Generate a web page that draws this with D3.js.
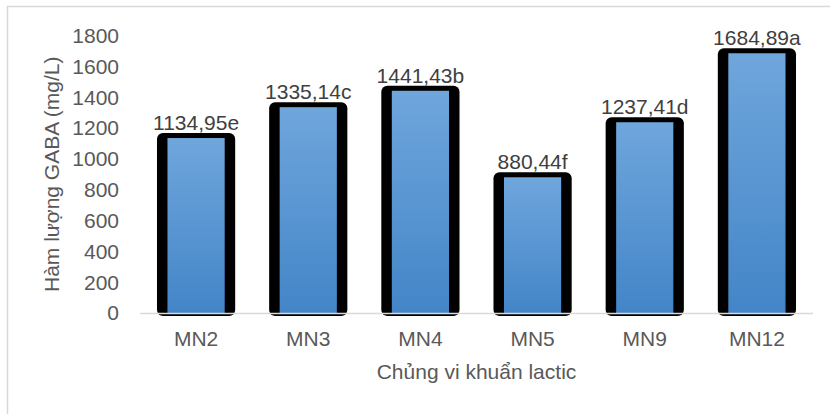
<!DOCTYPE html>
<html>
<head>
<meta charset="utf-8">
<script src="https://cdn.jsdelivr.net/npm/d3@7"></script>
<style>
  body { margin: 0; background: #fff; }
  text { font-family: "Liberation Sans", Arial, sans-serif; }
</style>
</head>
<body>
<div id="chart"></div>
<script>
var svgWidth = 830;
var svgHeight = 414;

// Data
var strains = ["MN2", "MN3", "MN4", "MN5", "MN9", "MN12"];
var gabaValues = [1134.95, 1335.14, 1441.43, 880.44, 1237.41, 1684.89];
var letters = ["e", "c", "b", "f", "d", "a"];
var yTicks = [0, 200, 400, 600, 800, 1000, 1200, 1400, 1600, 1800];

var plot = { left: 140, right: 813, top: 35.5, bottom: 313 };
var fontSize = 21;

var svg = d3.select("#chart")
  .append("svg")
  .attr("width", svgWidth)
  .attr("height", svgHeight);

// chart border
svg.append("rect")
  .attr("x", 7.5)
  .attr("y", 6.5)
  .attr("width", 840)
  .attr("height", 430)
  .attr("fill", "#fff")
  .attr("stroke", "#d9d9d9")
  .attr("stroke-width", 1.5);

var defs = svg.append("defs");
var grad = defs.append("linearGradient")
  .attr("id", "barGrad")
  .attr("x1", 0).attr("y1", 0).attr("x2", 0).attr("y2", 1);
grad.append("stop").attr("offset", "0%").attr("stop-color", "#6fa6dc");
grad.append("stop").attr("offset", "100%").attr("stop-color", "#4385c8");

var xScale = d3.scaleBand()
  .domain(strains)
  .range([plot.left, plot.right])
  .paddingInner(0.49)
  .paddingOuter(0.245);

var yScale = d3.scaleLinear()
  .domain([0, 1800])
  .range([plot.bottom, plot.top]);

// y tick labels
svg.append("g")
  .selectAll("text")
  .data(yTicks)
  .enter()
  .append("text")
  .attr("x", 119)
  .attr("y", d => yScale(d))
  .attr("dy", "0.35em")
  .attr("text-anchor", "end")
  .attr("font-size", fontSize)
  .attr("fill", "#595959")
  .text(d => d);

// black outline behind each bar
var bars = svg.append("g");
bars.selectAll("rect.outline")
  .data(gabaValues)
  .enter()
  .append("rect")
  .attr("class", "outline")
  .attr("x", (d, i) => xScale(strains[i]) - 10.5)
  .attr("y", d => yScale(d) - 5)
  .attr("width", xScale.bandwidth() + 21)
  .attr("height", d => plot.bottom + 3 - (yScale(d) - 5))
  .attr("rx", 6)
  .attr("fill", "#000");

bars.selectAll("rect.fill")
  .data(gabaValues)
  .enter()
  .append("rect")
  .attr("class", "fill")
  .attr("x", (d, i) => xScale(strains[i]))
  .attr("y", d => yScale(d))
  .attr("width", xScale.bandwidth())
  .attr("height", d => plot.bottom - yScale(d))
  .attr("fill", "url(#barGrad)");

// x axis line
svg.append("line")
  .attr("x1", plot.left)
  .attr("x2", plot.right)
  .attr("y1", plot.bottom + 0.5)
  .attr("y2", plot.bottom + 0.5)
  .attr("stroke", "#d9d9d9")
  .attr("stroke-width", 1.5);

// x category labels
svg.append("g")
  .selectAll("text")
  .data(strains)
  .enter()
  .append("text")
  .attr("x", d => xScale(d) + xScale.bandwidth() / 2)
  .attr("y", 339)
  .attr("dy", "0.35em")
  .attr("text-anchor", "middle")
  .attr("font-size", fontSize)
  .attr("fill", "#595959")
  .text(d => d);

// value labels
svg.append("g")
  .selectAll("text")
  .data(gabaValues)
  .enter()
  .append("text")
  .attr("x", (d, i) => xScale(strains[i]) + xScale.bandwidth() / 2)
  .attr("y", d => yScale(d) - 8)
  .attr("text-anchor", "middle")
  .attr("font-size", fontSize)
  .attr("fill", "#404040")
  .text((d, i) => d.toFixed(2).replace(".", ",") + letters[i]);

// axis titles
svg.append("text")
  .attr("x", (plot.left + plot.right) / 2)
  .attr("y", 372)
  .attr("dy", "0.35em")
  .attr("text-anchor", "middle")
  .attr("font-size", fontSize)
  .attr("fill", "#595959")
  .text("Chủng vi khuẩn lactic");

svg.append("text")
  .attr("transform", "translate(52," + ((plot.top + plot.bottom) / 2) + ") rotate(-90)")
  .attr("dy", "0.35em")
  .attr("text-anchor", "middle")
  .attr("font-size", fontSize)
  .attr("fill", "#595959")
  .text("Hàm lượng GABA (mg/L)");
</script>
</body>
</html>
